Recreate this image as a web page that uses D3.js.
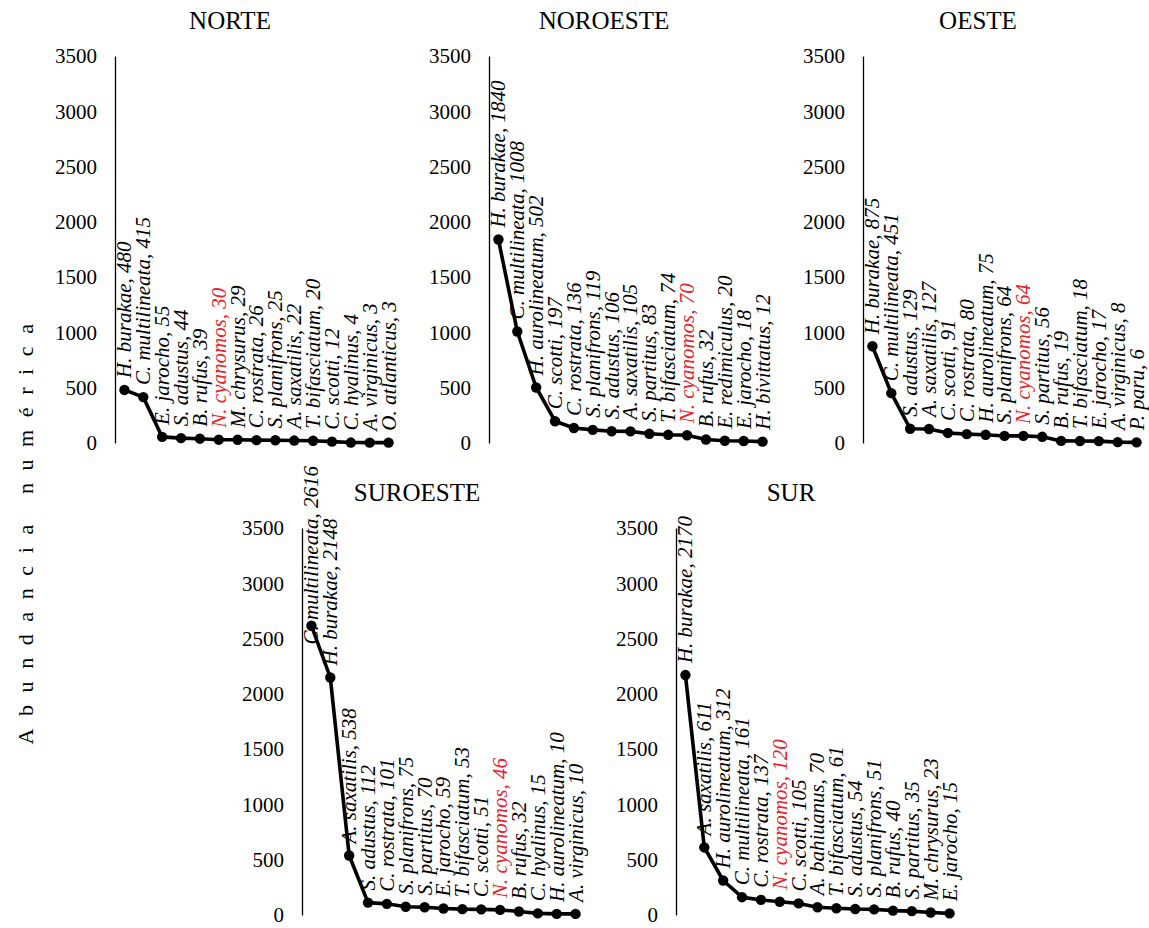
<!DOCTYPE html>
<html>
<head>
<meta charset="utf-8">
<script src="https://cdn.jsdelivr.net/npm/d3@7"></script>
<style>
  body { margin: 0; background: #fff; }
  svg { display: block; }
</style>
</head>
<body>
<svg id="chart" width="1149" height="928"></svg>
<script>
// abundancia numérica por región
const yTicks = [0, 500, 1000, 1500, 2000, 2500, 3000, 3500];

const norteSpecies = ["H. burakae", "C. multilineata", "E. jarocho", "S. adustus", "B. rufus", "N. cyanomos",
  "M. chrysurus", "C. rostrata", "S. planifrons", "A. saxatilis", "T. bifasciatum", "C. scotti",
  "C. hyalinus", "A. virginicus", "O. atlanticus"];
const norteValues = [480, 415, 55, 44, 39, 30, 29, 26, 25, 22, 20, 12, 4, 3, 3];

const noroesteSpecies = ["H. burakae", "C. multilineata", "H. aurolineatum", "C. scotti", "C. rostrata",
  "S. planifrons", "S. adustus", "A. saxatilis", "S. partitus", "T. bifasciatum", "N. cyanomos",
  "B. rufus", "E. redimiculus", "E. jarocho", "H. bivittatus"];
const noroesteValues = [1840, 1008, 502, 197, 136, 119, 106, 105, 83, 74, 70, 32, 20, 18, 12];

const oesteSpecies = ["H. burakae", "C. multilineata", "S. adustus", "A. saxatilis", "C. scotti",
  "C. rostrata", "H. aurolineatum", "S. planifrons", "N. cyanomos", "S. partitus", "B. rufus",
  "T. bifasciatum", "E. jarocho", "A. virginicus", "P. paru"];
const oesteValues = [875, 451, 129, 127, 91, 80, 75, 64, 64, 56, 19, 18, 17, 8, 6];

const suroesteSpecies = ["C. multilineata", "H. burakae", "A. saxatilis", "S. adustus", "C. rostrata",
  "S. planifrons", "S. partitus", "E. jarocho", "T. bifasciatum", "C. scotti", "N. cyanomos",
  "B. rufus", "C. hyalinus", "H. aurolineatum", "A. virginicus"];
const suroesteValues = [2616, 2148, 538, 112, 101, 75, 70, 59, 53, 51, 46, 32, 15, 10, 10];

const surSpecies = ["H. burakae", "A. saxatilis", "H. aurolineatum", "C. multilineata", "C. rostrata",
  "N. cyanomos", "C. scotti", "A. bahiuanus", "T. bifasciatum", "S. adustus", "S. planifrons",
  "B. rufus", "S. partitus", "M. chrysurus", "E. jarocho"];
const surValues = [2170, 611, 312, 161, 137, 120, 105, 70, 61, 54, 51, 40, 35, 23, 15];

const highlight = "N. cyanomos";

const panels = [
  { title: "NORTE",    species: norteSpecies,    values: norteValues,    x0: 115, bottom: 443, rowTop: 2 },
  { title: "NOROESTE", species: noroesteSpecies, values: noroesteValues, x0: 489, bottom: 443, rowTop: 2 },
  { title: "OESTE",    species: oesteSpecies,    values: oesteValues,    x0: 863, bottom: 443, rowTop: 2 },
  { title: "SUROESTE", species: suroesteSpecies, values: suroesteValues, x0: 302, bottom: 915, rowTop: 466 },
  { title: "SUR",      species: surSpecies,      values: surValues,      x0: 676, bottom: 915, rowTop: 466 }
];

const serif = "Liberation Serif";
const plotW = 283, plotH = 387;
const svg = d3.select("#chart");

function drawPanel(p) {
  const g = svg.append("g").attr("transform", `translate(${p.x0},${p.bottom - plotH})`);

  const x = d3.scalePoint()
    .domain(p.species.map((s, i) => i))
    .range([0, plotW])
    .padding(0.5);
  const y = d3.scaleLinear().domain([0, 3500]).range([plotH, 0]);

  const yAxis = d3.axisLeft(y).tickValues(yTicks).tickFormat(d3.format("d")).tickSize(0).tickPadding(18);
  const ax = g.append("g").call(yAxis)
    .attr("font-family", serif)
    .attr("font-size", 21);
  ax.select(".domain").attr("stroke", "#000").attr("stroke-width", 1.3);
  ax.selectAll(".tick text")
    .style("font-family", serif)
    .style("font-size", "21px")
    .style("fill", "#000");

  g.append("text")
    .attr("x", 115)
    .attr("y", -27)
    .attr("text-anchor", "middle")
    .style("font-family", serif)
    .style("font-size", "25px")
    .style("fill", "#000")
    .text(p.title);

  const pts = p.values.map((v, i) => [x(i), y(v)]);

  g.append("path")
    .datum(pts)
    .attr("fill", "none")
    .attr("stroke", "#000")
    .attr("stroke-width", 3.6)
    .attr("stroke-linejoin", "round")
    .attr("d", d3.line());

  g.selectAll("circle")
    .data(pts)
    .enter().append("circle")
    .attr("cx", d => d[0])
    .attr("cy", d => d[1])
    .attr("r", 5.2)
    .attr("fill", "#000");

  const topLimit = p.rowTop - (p.bottom - plotH);

  const labels = g.selectAll(".lab")
    .data(p.species)
    .enter().append("text")
    .attr("class", "lab")
    .style("font-family", serif)
    .style("font-size", "21px")
    .style("font-style", "italic")
    .style("fill", d => d === highlight ? "#e8232a" : "#000")
    .attr("dy", "0.33em")
    .text((d, i) => `${d}, ${p.values[i]}`);

  labels.each(function (d, i) {
    const len = this.getComputedTextLength();
    let start = y(p.values[i]) - 12;
    if (start - len < topLimit) start = topLimit + len;
    d3.select(this).attr("transform", `translate(${x(i)},${start}) rotate(-90)`);
  });
}

panels.forEach(drawPanel);

svg.append("text")
  .attr("transform", "translate(25,528) rotate(-90)")
  .attr("text-anchor", "middle")
  .attr("dy", "0.35em")
  .style("font-family", serif)
  .style("font-size", "22px")
  .style("letter-spacing", "12.6px")
  .style("fill", "#000")
  .text("Abundancia  numérica");
</script>
</body>
</html>
